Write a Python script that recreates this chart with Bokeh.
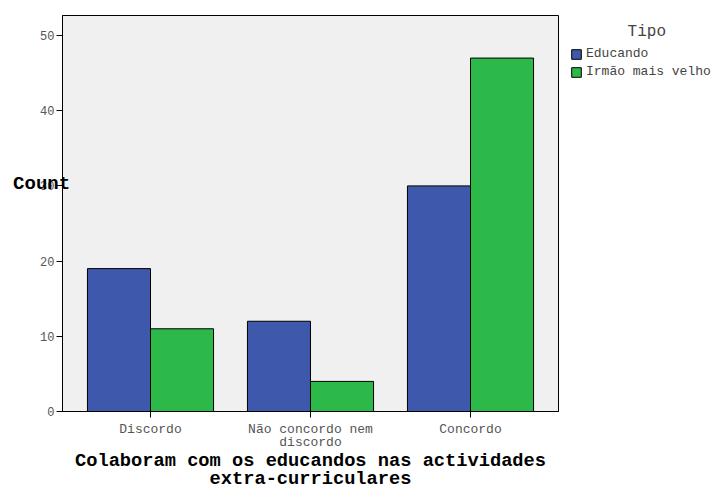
from bokeh.plotting import figure
from bokeh.models import ColumnDataSource, FactorRange, Range1d, Legend, LegendItem, FixedTicker
from bokeh.transform import dodge
from bokeh.embed import file_html
from bokeh.resources import INLINE

categories = ["Discordo", "Não concordo nem\ndiscordo", "Concordo"]
educando = [19, 12, 30]
irmao = [11, 4, 47]
series_names = ["Educando", "Irmão mais velho"]
legend_title = "Tipo"
y_label = "Count"
x_label = "Colaboram com os educandos nas actividades\nextra-curriculares"
colors = ["#3e58ac", "#2db84a"]
y_ticks = [0, 10, 20, 30, 40, 50]

FONT = "Liberation Mono"

src = ColumnDataSource(dict(cat=categories, edu=educando, irm=irmao))

p = figure(frame_width=496, frame_height=396, output_backend="svg", toolbar_location=None,
           x_range=FactorRange(*categories, range_padding=0.05, range_padding_units="absolute"),
           y_range=Range1d(0, 52.66),
           min_border_left=62, min_border_top=15, min_border_bottom=0, min_border_right=0)
p.background_fill_color = "#f0f0f0"
p.border_fill_color = "white"
p.outline_line_color = "black"
p.grid.visible = False

r1 = p.vbar(x=dodge("cat", -0.197, range=p.x_range), top="edu", width=0.394, source=src,
            fill_color=colors[0], line_color="black", line_width=1)
r2 = p.vbar(x=dodge("cat", 0.197, range=p.x_range), top="irm", width=0.394, source=src,
            fill_color=colors[1], line_color="black", line_width=1)

for ax in (p.xaxis[0], p.yaxis[0]):
    ax.axis_line_color = "black"
    ax.major_tick_line_color = "black"
    ax.major_tick_out = 6
    ax.major_tick_in = 0
    ax.minor_tick_line_color = None
    ax.major_label_text_font = FONT
    ax.major_label_text_color = "#555555"
    ax.major_label_text_font_size = "12px"

p.yaxis[0].ticker = FixedTicker(ticks=y_ticks)
p.yaxis[0].major_label_standoff = 2
p.yaxis[0].axis_label = y_label + "\n\n\n"
p.yaxis[0].axis_label_orientation = "horizontal"
p.yaxis[0].axis_label_text_font = FONT
p.yaxis[0].axis_label_text_font_style = "bold"
p.yaxis[0].axis_label_text_font_size = "19px"
p.yaxis[0].axis_label_text_line_height = 0.9
p.yaxis[0].axis_label_text_color = "black"
p.yaxis[0].axis_label_standoff = -33

p.xaxis[0].major_label_text_font_size = "13px"
p.xaxis[0].major_label_text_line_height = 0.9
p.xaxis[0].major_label_standoff = 4
p.xaxis[0].axis_label = x_label
p.xaxis[0].axis_label_text_font = FONT
p.xaxis[0].axis_label_text_font_style = "bold"
p.xaxis[0].axis_label_text_font_size = "18.7px"
p.xaxis[0].axis_label_text_line_height = 0.8
p.xaxis[0].axis_label_text_color = "black"
p.xaxis[0].axis_label_standoff = -3

legend = Legend(items=[LegendItem(label=series_names[0], renderers=[r1]),
                       LegendItem(label=series_names[1], renderers=[r2])],
                location=(12, 332), label_text_font=FONT, label_text_font_size="13px",
                glyph_width=12, glyph_height=12, spacing=3, padding=0, margin=6,
                label_standoff=4, label_height=12, border_line_color=None,
                background_fill_alpha=0, title="\u00a0" * 6 + legend_title,
                title_text_font=FONT, title_text_font_size="16px",
                title_text_font_style="normal", title_standoff=5)
p.add_layout(legend, "right")

open("out.html", "w").write(file_html(p, INLINE))
